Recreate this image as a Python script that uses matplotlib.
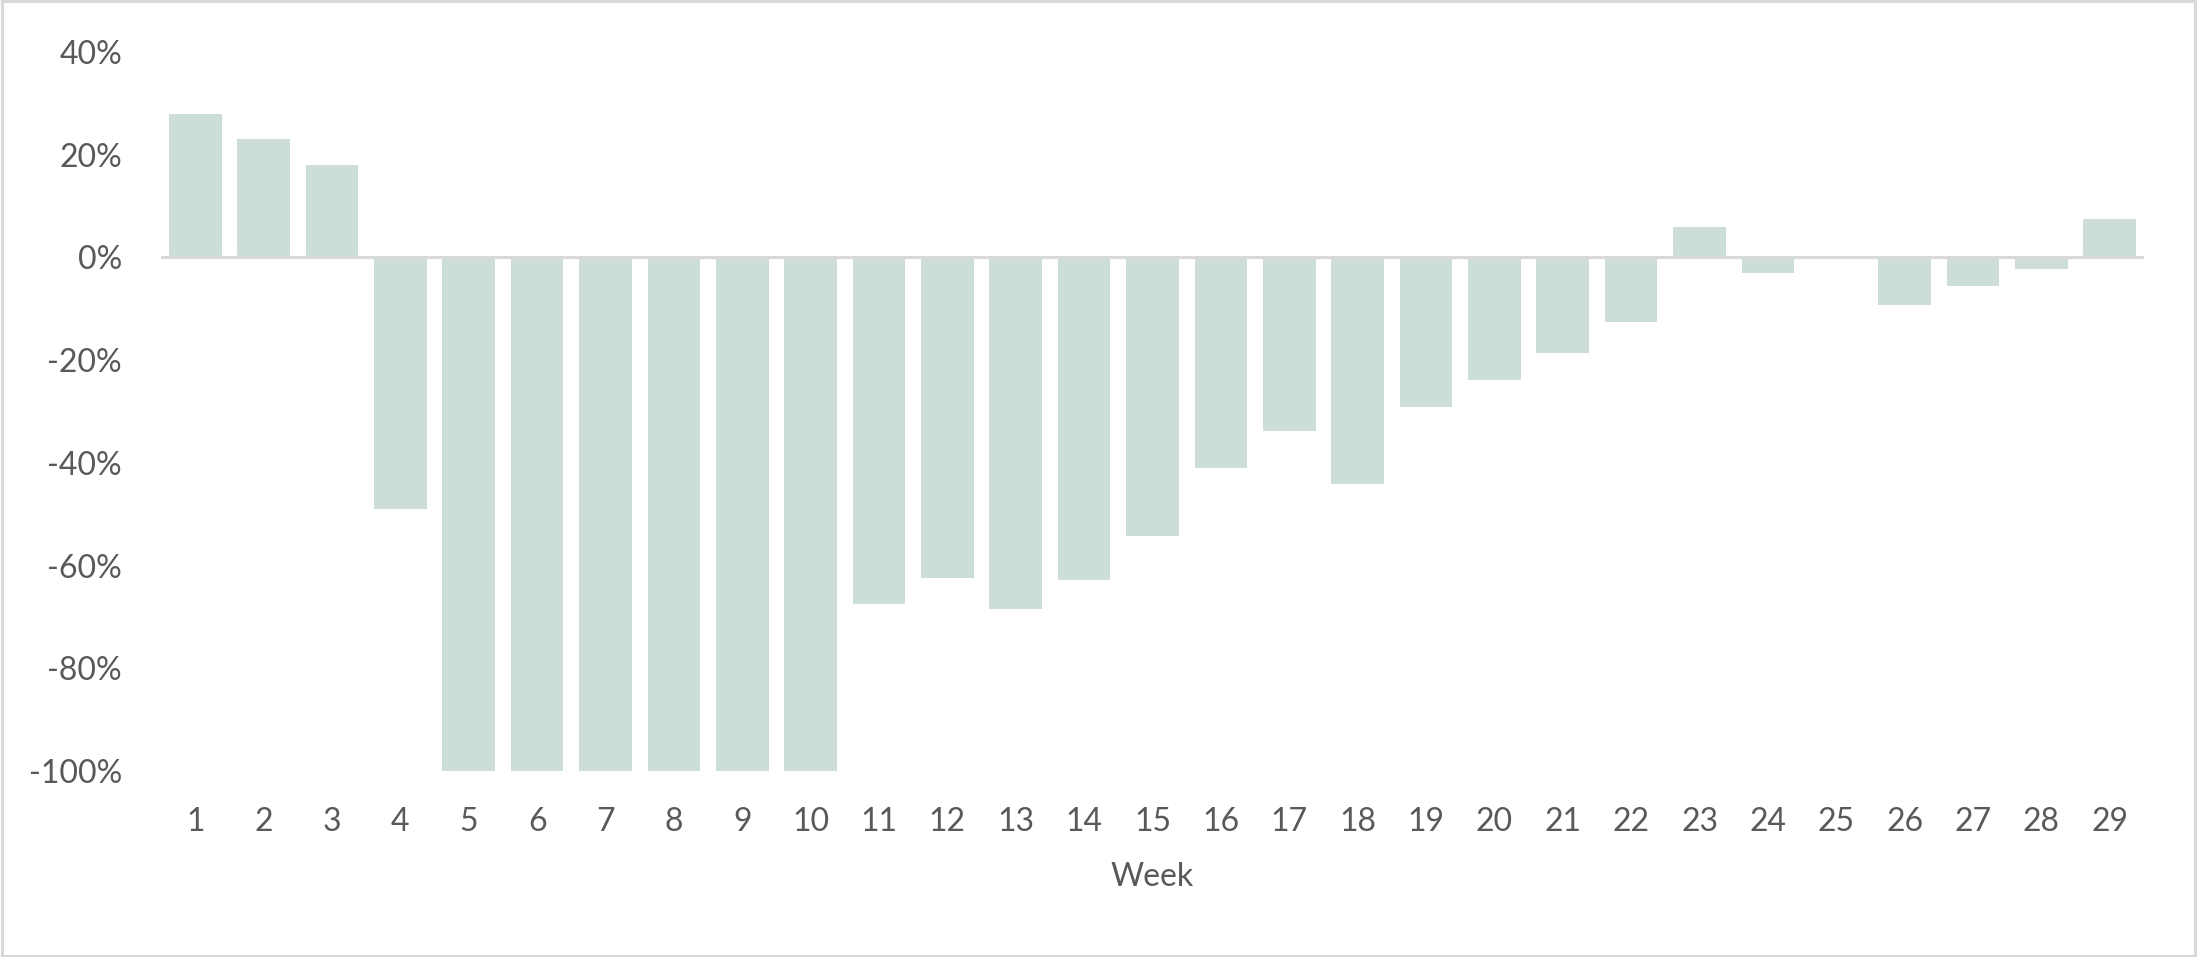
import matplotlib
matplotlib.use("Agg")
import matplotlib.pyplot as plt
from matplotlib.patches import Rectangle
from matplotlib.ticker import FuncFormatter

weeks = [str(i) for i in range(1, 30)]
change = [28, 23, 18, -49, -100, -100, -100, -100, -100, -100,
          -67.5, -62.5, -68.4, -62.8, -54.2, -41, -33.8, -44.2, -29.1, -23.8,
          -18.6, -12.6, 6, -3.1, 0, -9.2, -5.6, -2.3, 7.4]
yticks = [-100, -80, -60, -40, -20, 0, 20, 40]

plt.rcParams['font.family'] = ['Lato', 'DejaVu Sans']
text_color = '#595959'

fig = plt.figure(figsize=(21.97, 9.57), dpi=100)
ax = fig.add_axes([161/2197, (957-771)/957, (2144-161)/2197, (771-52)/957])

x = list(range(len(weeks)))
ax.bar(x, change, width=0.77, color='#CDDED9', zorder=2)
ax.axhline(0, color='#D9D9D9', linewidth=2.3, zorder=3)

ax.set_xlim(-0.5, len(weeks) - 0.5)
ax.set_ylim(-100, 40)
ax.set_yticks(yticks)
ax.yaxis.set_major_formatter(FuncFormatter(lambda v, p: f"{int(v)}%"))
ax.set_xticks(x)
ax.set_xticklabels(weeks)
for s in ax.spines.values():
    s.set_visible(False)
ax.tick_params(axis='both', length=0, labelsize=23, labelcolor=text_color)
ax.tick_params(axis='x', pad=26)
ax.tick_params(axis='y', pad=28)
ax.set_xlabel('Week', fontsize=23, color=text_color, labelpad=18)

fig.patches.append(Rectangle((0.0007, 0.0015), 0.9986, 0.997, transform=fig.transFigure,
                             fill=False, edgecolor='#D9D9D9', linewidth=2.2))

fig.savefig('out.png', dpi=100)
